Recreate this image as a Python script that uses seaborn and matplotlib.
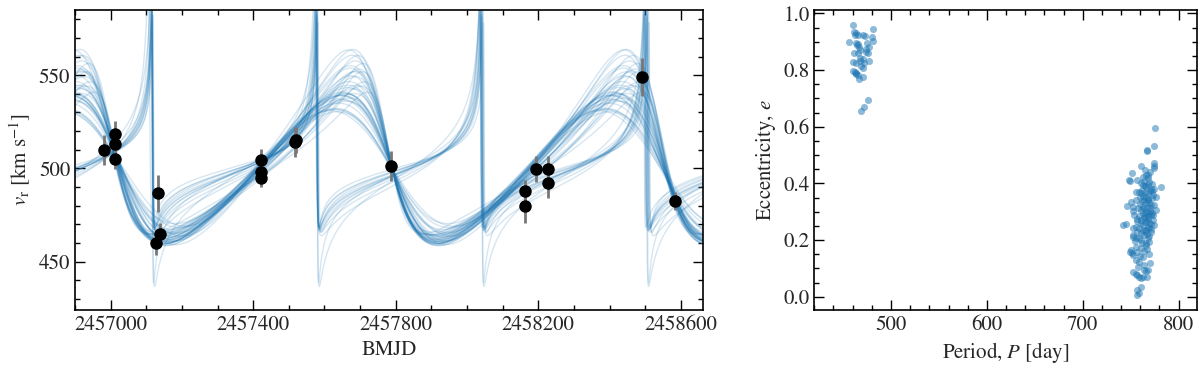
import numpy as np
import pandas as pd
import seaborn as sns
import matplotlib
matplotlib.use("Agg")
import matplotlib.pyplot as plt
from matplotlib.ticker import MultipleLocator

# observed radial velocities
t_obs = [2456980, 2457011, 2457011, 2457011, 2457128, 2457134, 2457139,
         2457422, 2457422, 2457422, 2457516, 2457521, 2457788, 2458162,
         2458162, 2458193, 2458228, 2458228, 2458491, 2458583]
v_obs = [509.8, 518.4, 513.0, 504.8, 459.8, 486.6, 464.6, 504.4, 498.2, 495.0,
         514.3, 515.2, 501.4, 488.0, 479.8, 499.6, 499.5, 492.3, 549.1, 482.5]
v_err = [8, 7, 7, 5, 6, 10, 6, 6, 5, 5, 8, 7, 8, 6, 9, 7, 7, 8, 10, 5]

# orbit samples drawn on the left: period, ecc, K, omega [deg], t_peri, v0
orb_P = [766, 762, 770, 758, 773, 764, 768, 756, 761, 775, 765, 760, 769, 757, 763,
         771, 759, 767, 774, 762, 766, 754, 770, 764, 768, 761, 772, 765, 759, 767,
         763, 769, 758, 772, 760, 766, 764, 770, 757, 767,
         462, 464, 460, 463, 461, 465, 462, 463, 461, 466, 459, 464, 462, 463]
orb_e = [0.25, 0.35, 0.45, 0.20, 0.30, 0.15, 0.50, 0.10, 0.28, 0.40, 0.32, 0.22,
         0.37, 0.12, 0.27, 0.42, 0.18, 0.30, 0.44, 0.24, 0.33, 0.06, 0.36, 0.26,
         0.30, 0.21, 0.40, 0.33, 0.16, 0.28,
         0.34, 0.29, 0.19, 0.38, 0.14, 0.31, 0.23, 0.46, 0.17, 0.35,
         0.92, 0.94, 0.90, 0.93, 0.91, 0.95, 0.89, 0.93, 0.92, 0.87, 0.94, 0.91,
         0.90, 0.93]
orb_K = [40, 44, 46, 36, 52, 30, 38, 34, 42, 45, 41, 38, 48, 32, 43, 40, 37, 47, 43,
         39, 50, 31, 42, 36, 45, 40, 49, 39, 35, 44,
         46, 37, 41, 44, 33, 48, 38, 41, 39, 51,
         60, 58, 62, 57, 61, 55, 64, 59, 60, 66, 57, 60, 80, 72]
orb_w = [90, 70, 60, 80, 65, 85, 75, 95, 88, 66, 78, 92, 68, 86, 82, 72, 88, 70,
         62, 84, 66, 90, 76, 90, 74, 86, 64, 80, 90, 78,
         72, 86, 82, 68, 94, 74, 90, 70, 88, 64,
         60, 62, 58, 64, 60, 66, 56, 61, 59, 55, 63, 62, 75, 80]
orb_tp = [2457790, 2457764, 2457757, 2457769, 2457747, 2457781, 2457778, 2457801,
          2457785, 2457760, 2457775, 2457795, 2457758, 2457782, 2457778, 2457771,
          2457786, 2457758, 2457759, 2457781, 2457752, 2457790, 2457773, 2457790,
          2457766, 2457784, 2457755, 2457778, 2457790, 2457772,
          2457765, 2457784, 2457779, 2457760, 2457797, 2457763, 2457788, 2457770,
          2457787, 2457749,
          2457579, 2457580, 2457577, 2457581, 2457578, 2457582, 2457576, 2457580,
          2457578, 2457574, 2457579, 2457583, 2457579, 2457580]
orb_v0 = [500, 500, 500, 502, 505, 500, 498, 498, 501, 501, 499, 499, 503, 500, 500,
          499, 500, 502, 500, 500, 504, 500, 499, 500, 501, 500, 503, 499, 500, 500,
          501, 500, 499, 502, 499, 503, 501, 499, 500, 505,
          500, 501, 499, 501, 500, 502, 498, 500, 500, 497, 501, 500, 498, 499]

# posterior samples on the right
period = [
    775.7, 774.7, 767.0, 767.4, 774.7, 774.0, 774.6, 760.8, 751.0, 748.6,
    749.0, 765.0, 766.0, 762.5, 767.7, 757.0, 764.0, 769.0, 760.8, 781.6,
    771.0, 766.0, 774.7, 756.0, 759.0, 760.8, 767.7, 773.0, 776.0, 750.0,
    755.5, 746.0, 752.0, 760.0, 764.0, 767.7, 762.5, 771.0, 774.7, 776.4,
    760.8, 766.0, 769.4, 773.0, 764.0, 741.7, 745.0, 752.0, 753.8, 757.0,
    760.8, 765.0, 769.4, 774.7, 762.5, 767.7, 759.0, 766.0, 752.0, 755.5,
    757.0, 760.8, 771.0, 764.0, 752.0, 753.0, 755.5, 759.0, 760.8, 767.7,
    769.4, 766.0, 750.3, 749.7, 751.0, 752.0, 755.5, 757.0, 760.8, 762.5,
    755.5, 759.0, 764.0, 770.5, 753.0, 755.5, 757.0, 759.0, 760.8, 762.5,
    764.0, 766.0, 767.7, 767.0, 760.8, 757.0, 759.0, 756.6,
    768.5, 770.2, 772.3, 763.1, 765.8, 769.9, 771.6, 766.7, 768.1, 770.8,
    763.4, 765.2, 767.3, 769.1, 771.4, 773.6, 764.7, 766.9, 768.8, 770.1,
    761.9, 763.7, 765.5, 767.9, 769.6, 772.1, 758.4, 761.2, 763.0, 766.3,
    768.2, 770.6, 772.8, 764.9, 762.1, 760.2, 758.1, 756.3, 754.2, 765.7,
    767.1, 769.3, 763.6, 761.5, 759.7, 757.8, 771.9, 768.4, 762.8, 765.4,
    460.7, 481.6, 456.5, 461.7, 463.5, 465.9, 471.0, 472.9, 479.8, 481.6,
    464.0, 465.9, 465.0, 474.6, 461.4, 465.9, 467.6, 474.0, 476.3, 477.4,
    460.0, 464.0, 467.6, 470.4, 471.8, 477.4, 460.0, 462.5, 464.0, 465.9,
    467.0, 470.4, 471.2, 467.6, 476.3, 471.8, 468.3, 463.0, 466.5, 469.0,
    462.0, 473.5]
ecc = [
    0.594, 0.533, 0.518, 0.514, 0.473, 0.460, 0.453, 0.462, 0.438, 0.412,
    0.409, 0.447, 0.430, 0.424, 0.418, 0.412, 0.410, 0.406, 0.400, 0.388,
    0.382, 0.386, 0.379, 0.370, 0.370, 0.365, 0.365, 0.359, 0.353, 0.335,
    0.341, 0.320, 0.318, 0.329, 0.341, 0.341, 0.318, 0.324, 0.324, 0.306,
    0.306, 0.300, 0.294, 0.288, 0.282, 0.253, 0.256, 0.302, 0.288, 0.276,
    0.270, 0.265, 0.261, 0.253, 0.253, 0.247, 0.241, 0.235, 0.241, 0.247,
    0.229, 0.224, 0.229, 0.218, 0.218, 0.212, 0.209, 0.206, 0.200, 0.206,
    0.194, 0.188, 0.165, 0.159, 0.153, 0.147, 0.176, 0.159, 0.171, 0.141,
    0.129, 0.124, 0.112, 0.118, 0.088, 0.082, 0.076, 0.071, 0.065, 0.071,
    0.094, 0.092, 0.094, 0.071, 0.035, 0.024, 0.014, 0.006,
    0.395, 0.372, 0.348, 0.356, 0.334, 0.312, 0.289, 0.318, 0.276, 0.258,
    0.296, 0.279, 0.268, 0.243, 0.238, 0.272, 0.232, 0.221, 0.213, 0.302,
    0.338, 0.314, 0.292, 0.284, 0.331, 0.296, 0.286, 0.259, 0.236, 0.352,
    0.428, 0.441, 0.398, 0.392, 0.376, 0.352, 0.312, 0.268, 0.196, 0.183,
    0.168, 0.152, 0.162, 0.188, 0.145, 0.104, 0.372, 0.346, 0.395, 0.365,
    0.959, 0.944, 0.900, 0.935, 0.932, 0.924, 0.924, 0.920, 0.918, 0.902,
    0.894, 0.892, 0.888, 0.894, 0.861, 0.859, 0.871, 0.873, 0.859, 0.882,
    0.829, 0.824, 0.833, 0.838, 0.824, 0.832, 0.798, 0.794, 0.788, 0.782,
    0.767, 0.806, 0.776, 0.841, 0.696, 0.668, 0.656, 0.785, 0.880, 0.815,
    0.925, 0.865]


def rv_curve(t, P, e, K, w, tp, v0):
    M = 2 * np.pi * (t - tp) / P
    M = np.mod(M + np.pi, 2 * np.pi) - np.pi
    E = M + 0.85 * e * np.sign(np.sin(M))
    for _ in range(60):
        E = E - (E - e * np.sin(E) - M) / (1 - e * np.cos(E))
    f = 2 * np.arctan2(np.sqrt(1 + e) * np.sin(E / 2), np.sqrt(1 - e) * np.cos(E / 2))
    w = np.deg2rad(w)
    return v0 + K * (np.cos(w + f) + e * np.cos(w))


sns.set_theme(style="ticks")
plt.rcParams["font.family"] = ["STIXGeneral", "DejaVu Serif"]
plt.rcParams["mathtext.fontset"] = "stix"
plt.rcParams["axes.edgecolor"] = "black"
plt.rcParams["axes.linewidth"] = 1.2

t_grid = np.linspace(2456890, 2458670, 8000)
rows = []
for i in range(len(orb_P)):
    v = rv_curve(t_grid, orb_P[i], orb_e[i], orb_K[i], orb_w[i], orb_tp[i], orb_v0[i])
    rows.append(pd.DataFrame({"t": t_grid, "v": v, "sample": i}))
curves = pd.concat(rows, ignore_index=True)

fig = plt.figure(figsize=(12, 3.7), dpi=100)
ax1 = fig.add_axes([0.0625, 0.162, 0.5233, 0.811])
ax2 = fig.add_axes([0.6786, 0.162, 0.3187, 0.811])

sns.lineplot(data=curves, x="t", y="v", units="sample", estimator=None,
             color="#1f77b4", alpha=0.18, lw=1.0, ax=ax1, legend=False)
ax1.errorbar(t_obs, v_obs, yerr=v_err, fmt="o", color="black", ms=8,
             ecolor="#777777", elinewidth=2, capsize=0, zorder=5)
ax1.set_xlim(2456900, 2458662)
ax1.set_ylim(424, 585)
ax1.xaxis.set_major_locator(MultipleLocator(400, offset=200))
ax1.xaxis.set_minor_locator(MultipleLocator(100))
ax1.yaxis.set_major_locator(MultipleLocator(50))
ax1.yaxis.set_minor_locator(MultipleLocator(10))
ax1.ticklabel_format(axis="x", useOffset=False, style="plain")
ax1.set_xlabel("BMJD", fontsize=15)
ax1.set_ylabel(r"$v_{\rm r}$ [km s$^{-1}$]", fontsize=15)

sns.scatterplot(x=period, y=ecc, ax=ax2, s=26, alpha=0.5, linewidth=0,
                color="#1f77b4")
ax2.set_xlim(420, 819)
ax2.set_ylim(-0.047, 1.012)
ax2.xaxis.set_major_locator(MultipleLocator(100))
ax2.xaxis.set_minor_locator(MultipleLocator(20))
ax2.yaxis.set_major_locator(MultipleLocator(0.2))
ax2.yaxis.set_minor_locator(MultipleLocator(0.05))
ax2.set_xlabel(r"Period, $P$ [day]", fontsize=15)
ax2.set_ylabel(r"Eccentricity, $e$", fontsize=15)

for ax in (ax1, ax2):
    ax.tick_params(which="both", direction="in", top=True, right=True,
                   labelsize=15, color="black", width=1.0)
    ax.tick_params(which="major", length=7)
    ax.tick_params(which="minor", length=3.5)
    for s in ax.spines.values():
        s.set_visible(True)
        s.set_color("black")

fig.savefig("out.png", dpi=100)
